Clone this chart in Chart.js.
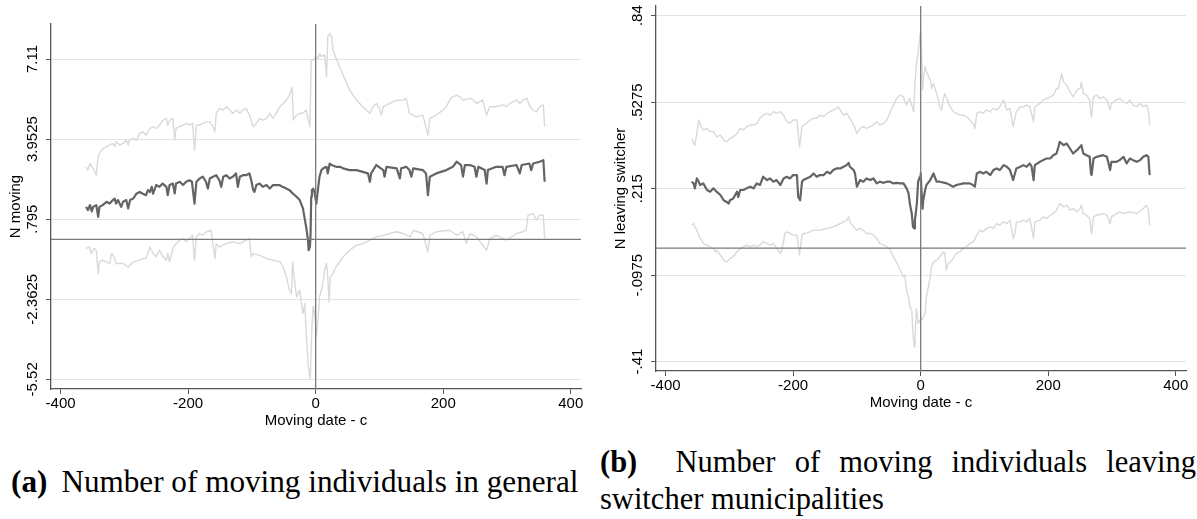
<!DOCTYPE html>
<html>
<head>
<meta charset="utf-8">
<script src="https://cdn.jsdelivr.net/npm/chart.js@4.4.0/dist/chart.umd.min.js"></script>
<style>
  body { margin: 0; background: #fff; width: 1197px; height: 519px; overflow: hidden; position: relative; }
  canvas { position: absolute; top: 0; }
  #graficoA { left: 0; }
  #graficoB { left: 600px; }
  .pie { position: absolute; font-family: "Liberation Serif", "Times New Roman", serif; font-size: 30.5px; line-height: 37px; color: #000; }
</style>
</head>
<body>
<canvas id="graficoA" width="600" height="430"></canvas>
<canvas id="graficoB" width="597" height="412"></canvas>
<div class="pie" style="left:11px; top:463px; font-size:31.2px; white-space:nowrap;"><b>(a)</b><span style="margin-left:14px">Number of moving individuals in general</span></div>
<div class="pie" style="left:600px; top:444px; width:596px; text-align:justify;"><b>(b)</b>&nbsp;&nbsp;Number of moving individuals leaving switcher municipalities</div>

<script>
// Eje X comun: dias relativos a la fecha de mudanza
var ticksX = [-400, -200, 0, 200, 400];

// Panel (a): numero de personas que se mudan (dia, valor)
var ticksA_y = [-5.52, -2.3625, 0.795, 3.9525, 7.11];
var etiquetasA_y = ['-5.52', '-2.3625', '.795', '3.9525', '7.11'];

var serieA_central = [[-360,1.28],[-357,1.15],[-354,1.35],[-351,1.1],[-349,1.28],[-344,1.35],[-341,0.89],[-339,1.28],[-334,1.35],[-328,1.48],[-323,1.41],[-318,1.55],[-315,1.6],[-313,1.41],[-310,1.55],[-305,1.28],[-302,1.48],[-297,1.55],[-294,1.22],[-291,1.55],[-286,1.61],[-281,1.8],[-276,1.87],[-271,1.8],[-266,1.74],[-263,1.94],[-260,1.87],[-257,2.07],[-255,1.8],[-250,2.14],[-245,2.07],[-240,2.2],[-234,2.07],[-232,1.74],[-229,2.14],[-224,2.2],[-221,1.81],[-219,2.2],[-213,2.27],[-208,2.14],[-203,2.27],[-198,2.33],[-194,2.27],[-190,1.41],[-187,2.27],[-182,2.4],[-177,2.47],[-172,2.27],[-169,2.0],[-166,2.4],[-161,2.47],[-156,2.53],[-151,2.33],[-148,2.07],[-145,2.47],[-140,2.53],[-135,2.4],[-130,2.47],[-125,2.6],[-122,2.07],[-119,2.47],[-114,2.53],[-109,2.53],[-104,2.6],[-101,2.33],[-98,1.94],[-96,1.87],[-93,2.14],[-88,2.2],[-83,2.07],[-77,2.14],[-72,2.0],[-67,2.14],[-62,2.14],[-57,2.14],[-52,2.07],[-46,2.0],[-41,1.94],[-36,1.81],[-30,1.68],[-25,1.55],[-20,1.22],[-15,0.49],[-12,-0.03],[-11,-0.43],[-9,-0.3],[-8,0.23],[-7,1.68],[-6,1.94],[-4,2.0],[-2,1.87],[1,1.41],[4,2.07],[6,2.47],[9,2.73],[12,2.8],[17,2.86],[19,2.6],[22,2.99],[25,2.93],[32,2.86],[38,2.86],[43,2.8],[53,2.73],[64,2.73],[74,2.66],[82,2.6],[85,2.27],[87,2.6],[95,2.93],[106,2.73],[108,2.47],[111,2.86],[127,2.8],[132,2.4],[134,2.8],[142,2.86],[147,2.73],[150,2.47],[153,2.8],[168,2.73],[173,2.6],[176,1.74],[179,2.47],[189,2.6],[205,2.73],[215,2.86],[221,3.06],[228,2.93],[231,2.47],[234,2.93],[242,2.93],[249,2.86],[252,2.47],[255,2.86],[265,2.73],[268,2.2],[270,2.73],[283,2.86],[293,2.86],[296,2.53],[299,2.86],[315,2.93],[320,2.6],[323,2.93],[335,2.99],[338,2.73],[341,2.99],[351,3.06],[357,3.12],[359,2.27]];

var serieA_superior = [[-360,2.86],[-357,2.73],[-354,2.99],[-349,2.8],[-344,2.53],[-341,3.26],[-339,3.39],[-334,3.58],[-328,3.65],[-323,3.72],[-318,3.78],[-315,3.65],[-313,3.85],[-307,3.72],[-302,3.78],[-297,3.91],[-294,3.72],[-292,3.91],[-286,3.98],[-281,3.91],[-276,4.18],[-271,4.24],[-266,4.11],[-260,4.37],[-255,4.44],[-250,4.37],[-245,4.5],[-239,4.7],[-234,4.77],[-232,4.5],[-229,4.7],[-224,4.77],[-221,3.91],[-219,4.37],[-213,4.44],[-208,4.5],[-203,4.57],[-198,4.5],[-193,4.57],[-190,3.52],[-187,4.5],[-182,4.5],[-177,4.57],[-171,4.64],[-166,4.64],[-161,4.44],[-158,4.24],[-156,4.97],[-151,5.16],[-145,5.1],[-140,5.23],[-135,5.1],[-130,4.97],[-124,5.1],[-119,4.97],[-114,5.1],[-109,5.16],[-104,4.9],[-98,4.44],[-93,4.57],[-88,4.77],[-83,4.7],[-77,4.77],[-72,4.97],[-67,4.77],[-62,4.97],[-56,5.23],[-51,5.36],[-46,5.49],[-41,5.69],[-37,5.99],[-35,4.7],[-30,4.9],[-25,4.97],[-20,4.97],[-15,5.1],[-9,4.44],[-7,7.07],[-4,7.07],[1,7.2],[4,7.14],[6,7.33],[9,7.2],[14,7.27],[17,6.41],[19,7.99],[22,8.12],[25,7.99],[27,7.47],[32,7.14],[43,6.48],[53,5.89],[64,5.49],[74,5.23],[85,4.97],[90,5.23],[95,5.36],[100,5.16],[103,4.9],[106,5.23],[116,5.36],[127,5.49],[137,5.49],[142,5.56],[147,4.97],[158,4.83],[168,4.9],[176,4.11],[179,4.77],[189,4.9],[200,5.1],[205,5.23],[210,5.49],[215,5.62],[221,5.69],[226,5.62],[231,5.49],[242,5.56],[247,5.49],[252,5.36],[262,5.49],[268,4.9],[273,5.23],[283,5.23],[294,5.3],[299,5.23],[304,5.36],[315,5.49],[320,5.36],[325,5.49],[331,5.56],[336,5.23],[341,5.1],[346,5.03],[351,5.23],[357,5.3],[359,4.44]];

var serieA_inferior = [[-360,-0.36],[-355,-0.3],[-352,-0.56],[-347,-0.36],[-344,-0.43],[-341,-1.35],[-339,-0.89],[-334,-0.82],[-328,-0.89],[-323,-0.95],[-320,-0.56],[-316,-0.69],[-313,-0.95],[-302,-0.95],[-294,-1.09],[-286,-0.89],[-276,-0.82],[-271,-0.76],[-266,-0.76],[-260,-0.3],[-255,-0.56],[-250,-0.69],[-245,-0.43],[-239,-0.69],[-234,-0.82],[-232,-0.56],[-229,-0.89],[-224,-0.36],[-219,-0.17],[-213,-0.03],[-208,0.03],[-203,-0.1],[-198,0.03],[-193,0.16],[-190,-0.82],[-187,0.1],[-182,0.23],[-177,0.16],[-171,0.3],[-164,0.36],[-158,-0.76],[-156,-0.17],[-151,-0.3],[-140,-0.17],[-130,-0.1],[-119,-0.17],[-109,-0.03],[-104,0.03],[-101,-0.69],[-98,-0.56],[-88,-0.63],[-77,-0.76],[-67,-0.82],[-56,-0.89],[-51,-1.09],[-46,-1.48],[-41,-2.01],[-38,-2.14],[-36,-0.89],[-35,-1.22],[-30,-2.27],[-25,-2.0],[-20,-2.93],[-17,-2.53],[-15,-3.59],[-12,-4.9],[-9,-5.49],[-8,-5.17],[-6,-3.45],[-4,-2.66],[-3,-2.93],[-2,-2.8],[1,-3.85],[4,-3.06],[6,-2.27],[9,-2.0],[12,-1.61],[14,-1.22],[17,-0.95],[19,-1.48],[21,-2.47],[23,-1.48],[27,-1.35],[32,-1.09],[43,-0.69],[53,-0.43],[64,-0.23],[74,-0.17],[85,-0.03],[95,0.1],[106,0.16],[116,0.23],[127,0.3],[137,0.23],[148,0.1],[153,0.36],[168,0.23],[176,-0.49],[179,0.16],[189,0.3],[210,0.36],[221,0.16],[231,0.3],[236,-0.17],[242,0.23],[252,0.1],[268,-0.43],[273,0.03],[283,0.16],[299,-0.03],[315,0.23],[325,0.3],[330,0.36],[333,0.95],[341,1.02],[346,0.76],[351,0.95],[357,0.95],[359,0.03]];

// Panel (b): personas que salen de municipios "switcher" (dia, valor)
var ticksB_y = [-0.41, -0.0975, 0.215, 0.5275, 0.84];
var etiquetasB_y = ['-.41', '-.0975', '.215', '.5275', '.84'];

var serieB_central = [[-359,0.24],[-356,0.234],[-354,0.216],[-351,0.252],[-348,0.24],[-346,0.228],[-341,0.234],[-335,0.21],[-330,0.204],[-325,0.216],[-320,0.204],[-314,0.192],[-309,0.173],[-304,0.167],[-301,0.161],[-299,0.173],[-294,0.179],[-288,0.204],[-286,0.185],[-283,0.21],[-278,0.21],[-273,0.216],[-267,0.222],[-262,0.216],[-257,0.234],[-252,0.228],[-247,0.258],[-241,0.246],[-236,0.252],[-231,0.24],[-226,0.246],[-220,0.228],[-215,0.252],[-210,0.258],[-205,0.252],[-200,0.264],[-194,0.264],[-192,0.185],[-189,0.173],[-186,0.24],[-184,0.246],[-179,0.252],[-173,0.258],[-168,0.27],[-163,0.258],[-158,0.264],[-152,0.264],[-147,0.276],[-142,0.27],[-137,0.282],[-132,0.288],[-126,0.288],[-121,0.294],[-116,0.3],[-113,0.308],[-111,0.294],[-105,0.282],[-103,0.27],[-100,0.222],[-95,0.246],[-90,0.24],[-85,0.252],[-79,0.246],[-74,0.252],[-69,0.234],[-64,0.24],[-58,0.236],[-53,0.24],[-48,0.24],[-43,0.234],[-38,0.236],[-32,0.234],[-27,0.234],[-22,0.216],[-19,0.198],[-17,0.161],[-14,0.125],[-12,0.077],[-10,0.071],[-9,0.101],[-6,0.161],[-4,0.24],[-1,0.258],[0,0.27],[2,0.173],[3,0.143],[4,0.173],[7,0.21],[9,0.228],[15,0.246],[20,0.27],[22,0.258],[25,0.24],[30,0.24],[41,0.234],[51,0.222],[56,0.228],[67,0.234],[77,0.234],[82,0.228],[85,0.222],[88,0.27],[93,0.276],[98,0.27],[103,0.276],[109,0.264],[114,0.282],[119,0.288],[124,0.282],[130,0.3],[135,0.294],[140,0.282],[145,0.246],[150,0.288],[156,0.294],[161,0.3],[166,0.294],[171,0.306],[174,0.294],[177,0.246],[179,0.3],[187,0.312],[192,0.318],[197,0.324],[203,0.324],[208,0.336],[213,0.342],[216,0.366],[218,0.384],[224,0.372],[229,0.378],[234,0.36],[239,0.342],[245,0.354],[250,0.366],[252,0.372],[255,0.342],[260,0.336],[265,0.33],[267,0.27],[268,0.264],[271,0.324],[276,0.33],[286,0.336],[292,0.33],[297,0.282],[299,0.312],[307,0.312],[312,0.318],[318,0.33],[323,0.306],[328,0.324],[333,0.318],[339,0.312],[344,0.318],[349,0.33],[354,0.336],[357,0.33],[359,0.264]];

var serieB_superior = [[-359,0.396],[-356,0.378],[-354,0.372],[-351,0.414],[-348,0.463],[-346,0.451],[-343,0.433],[-341,0.427],[-335,0.433],[-330,0.421],[-325,0.421],[-320,0.402],[-314,0.408],[-309,0.39],[-304,0.384],[-299,0.396],[-294,0.402],[-288,0.414],[-283,0.433],[-278,0.427],[-273,0.439],[-267,0.445],[-262,0.445],[-257,0.451],[-252,0.469],[-247,0.481],[-241,0.487],[-236,0.481],[-231,0.493],[-226,0.487],[-220,0.493],[-215,0.481],[-210,0.457],[-205,0.451],[-200,0.463],[-194,0.463],[-190,0.366],[-186,0.439],[-184,0.445],[-179,0.451],[-173,0.463],[-168,0.469],[-163,0.469],[-158,0.481],[-152,0.475],[-147,0.487],[-142,0.493],[-137,0.499],[-132,0.505],[-129,0.511],[-126,0.499],[-121,0.481],[-116,0.487],[-111,0.469],[-105,0.445],[-100,0.414],[-95,0.433],[-90,0.439],[-85,0.433],[-79,0.439],[-74,0.445],[-69,0.457],[-64,0.445],[-58,0.451],[-53,0.463],[-48,0.49],[-43,0.515],[-38,0.54],[-32,0.553],[-27,0.547],[-25,0.529],[-22,0.517],[-19,0.535],[-17,0.541],[-14,0.517],[-11,0.493],[-9,0.595],[-6,0.68],[-4,0.704],[-1,0.776],[0,0.788],[2,0.662],[3,0.571],[4,0.607],[7,0.656],[9,0.637],[15,0.607],[17,0.577],[20,0.595],[25,0.559],[30,0.511],[33,0.499],[35,0.535],[38,0.559],[41,0.541],[46,0.511],[51,0.493],[56,0.487],[62,0.481],[67,0.481],[72,0.475],[77,0.463],[82,0.451],[85,0.433],[88,0.487],[93,0.493],[98,0.487],[103,0.499],[109,0.493],[114,0.505],[119,0.499],[124,0.511],[130,0.535],[135,0.499],[140,0.505],[145,0.439],[150,0.493],[156,0.511],[161,0.511],[166,0.517],[171,0.511],[177,0.457],[179,0.511],[187,0.523],[192,0.535],[198,0.541],[203,0.547],[208,0.553],[213,0.577],[216,0.577],[221,0.631],[224,0.601],[229,0.589],[234,0.565],[239,0.547],[245,0.571],[250,0.577],[252,0.601],[255,0.559],[260,0.553],[265,0.535],[267,0.481],[268,0.475],[271,0.547],[276,0.553],[281,0.541],[286,0.547],[292,0.535],[297,0.499],[299,0.523],[307,0.535],[312,0.541],[318,0.529],[323,0.523],[328,0.535],[333,0.517],[339,0.511],[344,0.523],[349,0.511],[354,0.517],[357,0.499],[359,0.445]];

var serieB_inferior = [[-359,0.083],[-356,0.089],[-354,0.077],[-351,0.065],[-348,0.047],[-346,0.035],[-343,0.029],[-341,0.017],[-335,0.011],[-330,0.005],[-325,-0.001],[-322,-0.013],[-320,-0.007],[-314,-0.025],[-309,-0.043],[-304,-0.05],[-299,-0.037],[-294,-0.031],[-288,-0.013],[-283,-0.001],[-278,0.005],[-273,0.011],[-267,0.005],[-262,0.011],[-257,0.005],[-252,0.011],[-247,0.023],[-241,0.017],[-236,0.011],[-231,0.017],[-226,-0.001],[-220,-0.019],[-218,-0.007],[-215,0.023],[-213,0.053],[-210,0.059],[-205,0.053],[-200,0.047],[-194,0.047],[-190,-0.025],[-186,0.047],[-184,0.053],[-179,0.053],[-168,0.065],[-158,0.065],[-147,0.071],[-137,0.077],[-126,0.089],[-116,0.101],[-113,0.113],[-111,0.095],[-105,0.077],[-100,0.065],[-95,0.071],[-90,0.065],[-85,0.053],[-79,0.053],[-74,0.047],[-69,0.035],[-64,0.017],[-58,0.011],[-53,0.005],[-48,-0.004],[-43,-0.031],[-38,-0.05],[-32,-0.08],[-27,-0.104],[-25,-0.098],[-22,-0.152],[-19,-0.176],[-17,-0.212],[-14,-0.224],[-12,-0.309],[-10,-0.357],[-9,-0.345],[-7,-0.218],[-5,-0.248],[-4,-0.272],[-1,-0.26],[0,-0.254],[2,-0.26],[4,-0.248],[7,-0.236],[9,-0.176],[12,-0.14],[15,-0.104],[17,-0.068],[20,-0.05],[25,-0.044],[30,-0.031],[36,-0.013],[38,-0.019],[40,-0.08],[43,-0.056],[49,-0.044],[56,-0.019],[62,-0.013],[67,-0.001],[72,0.005],[77,0.017],[83,0.023],[88,0.047],[93,0.065],[98,0.059],[103,0.071],[109,0.077],[114,0.071],[119,0.089],[124,0.083],[130,0.095],[135,0.089],[140,0.101],[145,0.035],[148,0.053],[150,0.095],[156,0.095],[161,0.101],[166,0.095],[171,0.107],[177,0.035],[179,0.095],[187,0.101],[192,0.113],[197,0.107],[203,0.119],[208,0.125],[213,0.137],[218,0.161],[224,0.149],[229,0.155],[234,0.137],[239,0.143],[245,0.131],[250,0.143],[252,0.155],[255,0.125],[260,0.119],[265,0.107],[267,0.065],[268,0.053],[271,0.113],[276,0.119],[286,0.125],[292,0.119],[297,0.089],[299,0.113],[307,0.125],[312,0.131],[318,0.125],[328,0.131],[339,0.125],[349,0.143],[354,0.155],[357,0.137],[359,0.083]];

var fuente = '"Liberation Sans", Arial, Helvetica, sans-serif';

// Lineas de referencia en x = 0 y en y = 0
var lineasCero = {
  id: 'lineasCero',
  afterDatasetsDraw: function(chart) {
    var ctx = chart.ctx;
    var area = chart.chartArea;
    var x0 = chart.scales.x.getPixelForValue(0);
    var y0 = chart.scales.y.getPixelForValue(0);
    ctx.save();
    ctx.strokeStyle = '#7a7a7a';
    ctx.lineWidth = 1.3;
    ctx.beginPath();
    ctx.moveTo(area.left, y0);
    ctx.lineTo(area.right, y0);
    ctx.moveTo(x0, area.top);
    ctx.lineTo(x0, area.bottom);
    ctx.stroke();
    ctx.restore();
  }
};

// Etiquetas del eje Y giradas 90 grados, como en Stata
function etiquetasGiradas(valores, textos, separacion) {
  return {
    id: 'etiquetasGiradas',
    afterDraw: function(chart) {
      var ctx = chart.ctx;
      var escala = chart.scales.y;
      ctx.save();
      ctx.font = '15px ' + fuente;
      ctx.fillStyle = '#000';
      ctx.textAlign = 'center';
      ctx.textBaseline = 'middle';
      for (var i = 0; i < valores.length; i++) {
        var y = escala.getPixelForValue(valores[i]);
        ctx.save();
        ctx.translate(escala.right - separacion, y);
        ctx.rotate(-Math.PI / 2);
        ctx.fillText(textos[i], 0, 0);
        ctx.restore();
      }
      ctx.restore();
    }
  };
}

function aPuntos(serie) {
  return serie.map(function(p) { return { x: p[0], y: p[1] }; });
}

function crearGrafico(idCanvas, central, superior, inferior, conf) {
  var ctx = document.getElementById(idCanvas).getContext('2d');
  new Chart(ctx, {
    type: 'scatter',
    data: {
      datasets: [
        { data: aPuntos(superior), showLine: true, borderColor: '#d9d9d9', borderWidth: 1.4, pointRadius: 0 },
        { data: aPuntos(inferior), showLine: true, borderColor: '#d9d9d9', borderWidth: 1.4, pointRadius: 0 },
        { data: aPuntos(central), showLine: true, borderColor: '#646464', borderWidth: 2.2, pointRadius: 0 }
      ]
    },
    options: {
      responsive: false,
      animation: false,
      layout: { padding: { top: conf.arriba, right: conf.derecha, left: 0, bottom: 0 } },
      plugins: { legend: { display: false }, tooltip: { enabled: false } },
      elements: { line: { tension: 0, borderJoinStyle: 'round' } },
      scales: {
        x: {
          type: 'linear', min: -415, max: 416,
          afterBuildTicks: function(s) { s.ticks = ticksX.map(function(v) { return { value: v }; }); },
          afterFit: function(s) { s.height = 41; },
          grid: { drawOnChartArea: false, tickLength: 5, tickColor: '#555' },
          border: { color: '#555', width: 1.3 },
          ticks: { font: { family: fuente, size: 15 }, color: '#000', padding: 1, maxRotation: 0 },
          title: { display: true, text: 'Moving date - c', color: '#000', font: { family: fuente, size: 15 }, padding: { top: 0, bottom: 0 } }
        },
        y: {
          type: 'linear', min: conf.yMin, max: conf.yMax,
          afterBuildTicks: function(s) { s.ticks = conf.ticks.map(function(v) { return { value: v }; }); },
          afterFit: function(s) { s.width = conf.anchoY; },
          grid: { color: '#e3e3e3', lineWidth: 1, tickLength: 5, tickColor: '#555' },
          border: { color: '#555', width: 1.3 },
          ticks: { display: false },
          title: { display: true, text: conf.tituloY, color: '#000', font: { family: fuente, size: 15 }, padding: { top: conf.sepTitulo, bottom: 0 } }
        }
      }
    },
    plugins: [lineasCero, etiquetasGiradas(conf.ticks, conf.etiquetas, 18.5)]
  });
}

crearGrafico('graficoA', serieA_central, serieA_superior, serieA_inferior, {
  arriba: 24, derecha: 19, anchoY: 51, yMin: -5.9, yMax: 8.49,
  ticks: ticksA_y, etiquetas: etiquetasA_y, tituloY: 'N moving', sepTitulo: 7
});

crearGrafico('graficoB', serieB_central, serieB_superior, serieB_inferior, {
  arriba: 6, derecha: 11, anchoY: 56, yMin: -0.444, yMax: 0.875,
  ticks: ticksB_y, etiquetas: etiquetasB_y, tituloY: 'N leaving switcher', sepTitulo: 12
});
</script>
</body>
</html>
